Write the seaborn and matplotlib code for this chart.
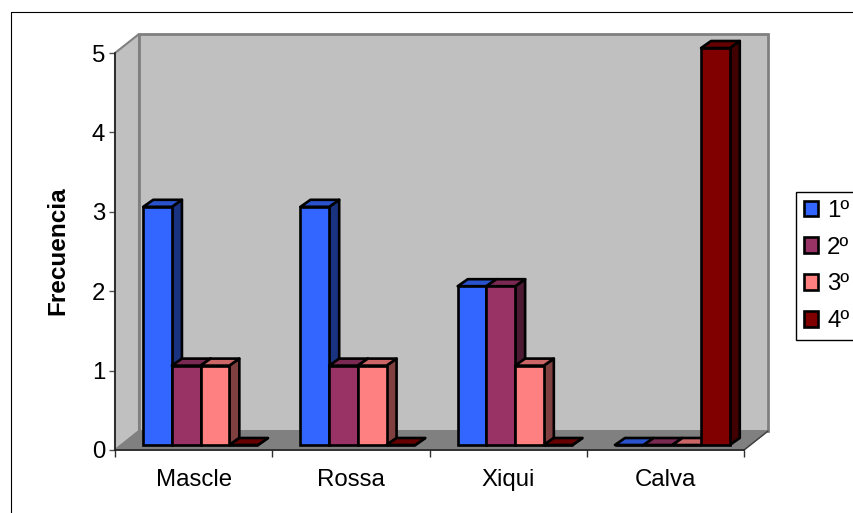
import matplotlib
matplotlib.use("Agg")
import matplotlib.pyplot as plt
import pandas as pd
import seaborn as sns
from matplotlib.lines import Line2D
from matplotlib.patches import Polygon
from matplotlib.transforms import Affine2D, IdentityTransform

categorias = ["Mascle", "Rossa", "Xiqui", "Calva"]
lugares = ["1º", "2º", "3º", "4º"]
primero = [3, 3, 2, 0]
segundo = [1, 1, 2, 0]
tercero = [1, 1, 1, 0]
cuarto = [0, 0, 0, 5]
colores = ["#3366FF", "#993366", "#FF8080", "#800000"]

W, H = 854, 513
WALL_DX, WALL_DY = 24, 19   # depth of the chart box, px
BAR_DX, BAR_DY = 10, 7      # depth of each bar, px
SHIFT_X, SHIFT_Y = 7, 5     # bars stand a little behind the front plane
EDGE = 1.9


def shade(color, k):
    r, g, b = matplotlib.colors.to_rgb(color)
    return (r * k, g * k, b * k)


df = pd.DataFrame({
    "categoria": categorias * 4,
    "lugar": [l for l in lugares for _ in categorias],
    "frecuencia": primero + segundo + tercero + cuarto,
})

sns.set_theme(style="white")
plt.rcParams["font.family"] = ["Liberation Sans", "DejaVu Sans"]
plt.rcParams["text.color"] = "black"

fig = plt.figure(figsize=(W / 100, H / 100), dpi=100)
ax = fig.add_axes([115 / W, (H - 450) / H, 629 / W, 397 / H])

sns.barplot(
    data=df, x="categoria", y="frecuencia", hue="lugar",
    palette=colores, saturation=1, width=0.73, gap=0,
    edgecolor="black", linewidth=EDGE, ax=ax,
)
ax.set_xlim(-0.5, 3.5)
ax.set_ylim(0, 5)
ax.patch.set_visible(False)

# --- box walls, from the axes corners ---
x0, y0 = ax.transData.transform((-0.5, 0))
x1, y1 = ax.transData.transform((3.5, 5))
pix = IdentityTransform()
wall_kw = dict(transform=pix, clip_on=False, zorder=0.5)
ax.add_patch(Polygon(
    [(x0 + WALL_DX, y0 + WALL_DY), (x1 + WALL_DX, y0 + WALL_DY),
     (x1 + WALL_DX, y1 + WALL_DY), (x0 + WALL_DX, y1 + WALL_DY)],
    fc="#C0C0C0", ec="#808080", lw=2, **wall_kw))
ax.add_patch(Polygon(
    [(x0, y0), (x0 + WALL_DX, y0 + WALL_DY),
     (x0 + WALL_DX, y1 + WALL_DY), (x0, y1)],
    fc="#C0C0C0", ec="#808080", lw=1.5, **wall_kw))
ax.add_patch(Polygon(
    [(x0, y0), (x1, y0), (x1 + WALL_DX, y0 + WALL_DY), (x0 + WALL_DX, y0 + WALL_DY)],
    fc="#808080", ec="#808080", lw=1, **wall_kw))
ax.plot([x1, x1 + WALL_DX], [y0, y0 + WALL_DY], color="#404040", lw=1,
        transform=pix, clip_on=False, zorder=0.6)

# --- extrude the seaborn bars ---
bars = []
for cont, col in zip(ax.containers, colores):
    bars += [(b, col) for b in cont]
bars.sort(key=lambda item: item[0].get_x())

shift = ax.transData + Affine2D().translate(SHIFT_X, SHIFT_Y)
for z, (bar, col) in enumerate(bars):
    bx0, by0 = shift.transform((bar.get_x(), 0))
    bx1, by1 = shift.transform((bar.get_x() + bar.get_width(), bar.get_height()))
    base = 2 + z * 0.01
    bar.set_transform(shift)
    bar.set_clip_on(False)
    bar.set_zorder(base + 0.002)
    poly_kw = dict(transform=pix, clip_on=False, ec="black", lw=EDGE, joinstyle="round")
    ax.add_patch(Polygon(
        [(bx1, by0), (bx1 + BAR_DX, by0 + BAR_DY), (bx1 + BAR_DX, by1 + BAR_DY), (bx1, by1)],
        fc=shade(col, 0.5), zorder=base, **poly_kw))
    ax.add_patch(Polygon(
        [(bx0, by1), (bx1, by1), (bx1 + BAR_DX, by1 + BAR_DY), (bx0 + BAR_DX, by1 + BAR_DY)],
        fc=shade(col, 0.8), zorder=base + 0.001, **poly_kw))

# --- axes ---
sns.despine(ax=ax)
for side in ("left", "bottom"):
    ax.spines[side].set_color("#202020")
    ax.spines[side].set_linewidth(1.2)
    ax.spines[side].set_zorder(1)
ax.set_xticks([-0.5, 0.5, 1.5, 2.5, 3.5], minor=True)
ax.tick_params(axis="x", which="minor", bottom=True, length=5, width=1, color="#303030")
ax.tick_params(axis="x", which="major", bottom=False, labelsize=17.3, pad=8, labelcolor="black")
ax.set_yticks(range(6))
ax.tick_params(axis="y", left=True, length=4, width=1, color="#505050", labelsize=17.3,
               pad=3, labelcolor="black")
ax.set_xlabel("")
ax.set_ylabel("Frecuencia", fontsize=17.5, fontweight="bold", color="black")
ax.yaxis.set_label_coords((69 - 115) / 629, (450 - 251) / 397)

# --- legend ---
sns.move_legend(
    ax, "upper left", bbox_to_anchor=(796 / W, (H - 192) / H), bbox_transform=fig.transFigure,
    title=None, frameon=True, fancybox=False, framealpha=1, edgecolor="black",
    borderaxespad=0, fontsize=17.3, handlelength=0.6, handleheight=0.6, handletextpad=0.38,
    labelspacing=0.62, borderpad=0.32, labelcolor="black",
)
ax.get_legend().get_frame().set_linewidth(1)
ax.get_legend().set_zorder(5)

# --- outer chart border ---
fig.add_artist(Line2D([11 / W, 11 / W], [0, (H - 12) / H], color="black", lw=0.8))
fig.add_artist(Line2D([11 / W, 1], [(H - 12) / H, (H - 12) / H], color="black", lw=0.8))

fig.savefig("out.png", dpi=100)
